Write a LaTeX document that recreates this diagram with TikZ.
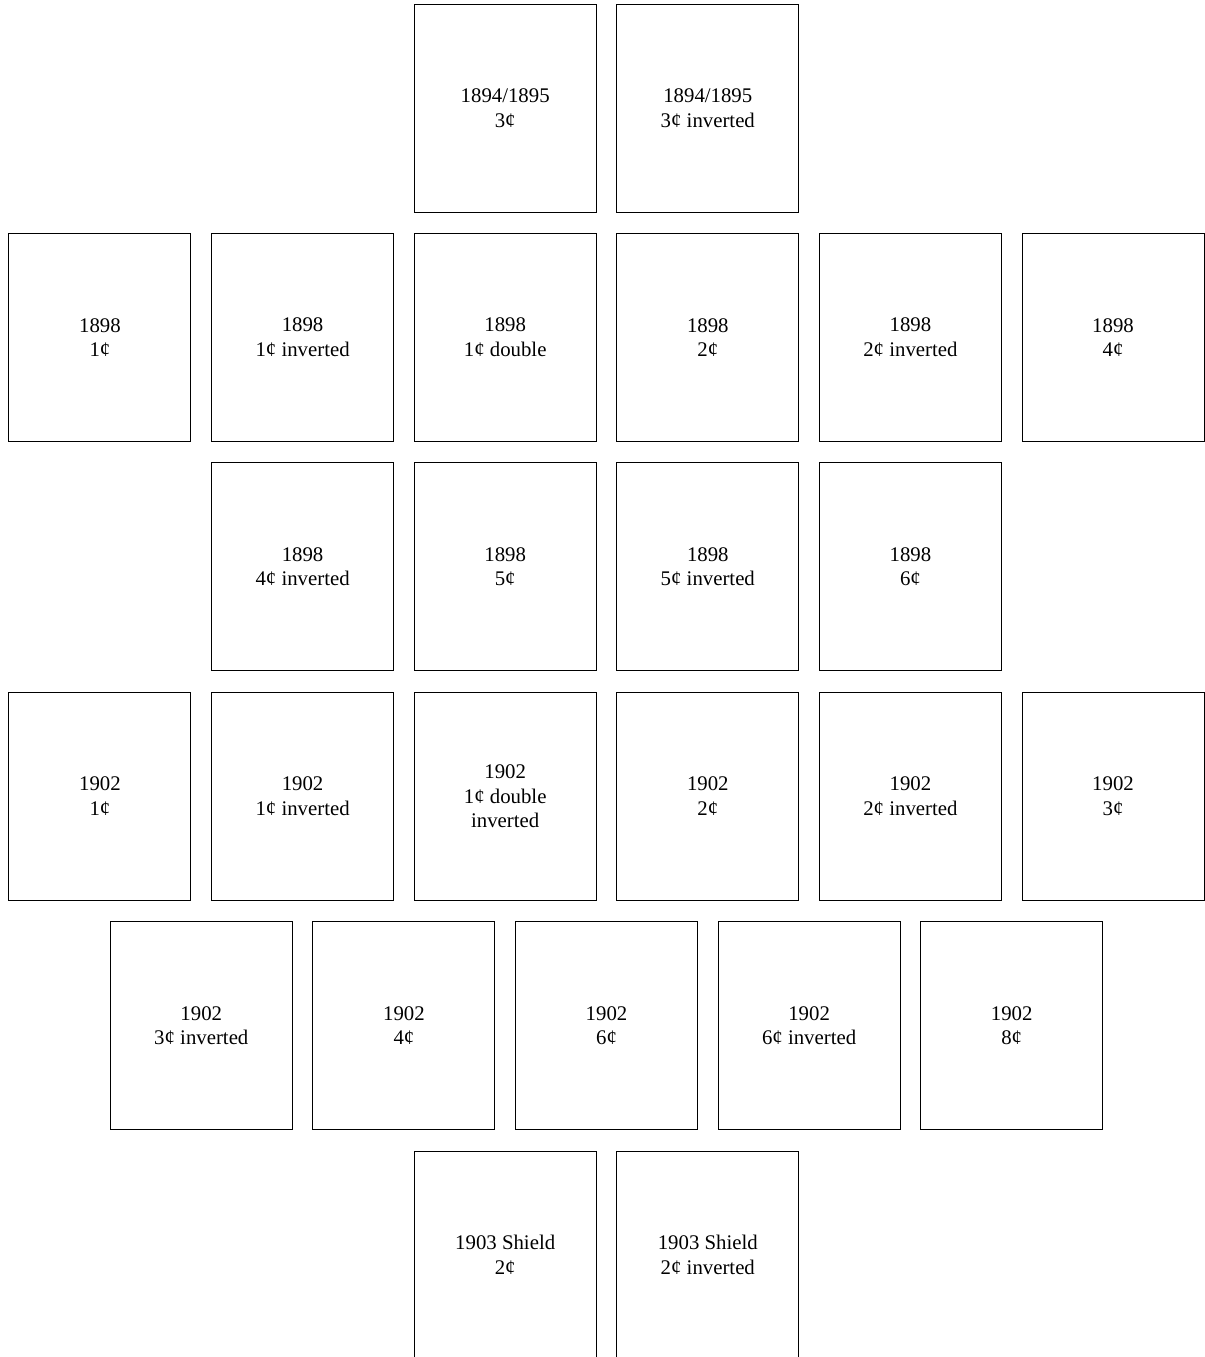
\documentclass[tikz,border=0pt]{standalone}
\usepackage{fontspec}
\setmainfont{Liberation Serif}
\usepackage{tikz}
\usetikzlibrary{positioning}

\begin{document}
\begin{tikzpicture}[
  x=101.3pt, y=114.7pt,
  font=\fontsize{10.4}{12.3}\selectfont,
  stamp/.style={rectangle, draw=black, line width=0.5pt,
                minimum width=91pt, minimum height=104pt,
                inner sep=0pt, align=center},
]
\useasboundingbox (-50pt,54pt) rectangle (552.5pt,-624.5pt);

% 1894/1895
\node[stamp] (y94c3)  at (2,0) {1894/1895\\3¢};
\node[stamp] (y94c3i) at (3,0) {1894/1895\\3¢ inverted};

% 1898
\node[stamp] (y98c1)  at (0,-1) {1898\\1¢};
\node[stamp] (y98c1i) at (1,-1) {1898\\1¢ inverted};
\node[stamp] (y98c1d) at (2,-1) {1898\\1¢ double};
\node[stamp] (y98c2)  at (3,-1) {1898\\2¢};
\node[stamp] (y98c2i) at (4,-1) {1898\\2¢ inverted};
\node[stamp] (y98c4)  at (5,-1) {1898\\4¢};

\node[stamp] (y98c4i) at (1,-2) {1898\\4¢ inverted};
\node[stamp] (y98c5)  at (2,-2) {1898\\5¢};
\node[stamp] (y98c5i) at (3,-2) {1898\\5¢ inverted};
\node[stamp] (y98c6)  at (4,-2) {1898\\6¢};

% 1902
\node[stamp] (y02c1)   at (0,-3) {1902\\1¢};
\node[stamp] (y02c1i)  at (1,-3) {1902\\1¢ inverted};
\node[stamp] (y02c1di) at (2,-3) {1902\\1¢ double\\inverted};
\node[stamp] (y02c2)   at (3,-3) {1902\\2¢};
\node[stamp] (y02c2i)  at (4,-3) {1902\\2¢ inverted};
\node[stamp] (y02c3)   at (5,-3) {1902\\3¢};

\node[stamp] (y02c3i) at (0.5,-4) {1902\\3¢ inverted};
\node[stamp] (y02c4)  at (1.5,-4) {1902\\4¢};
\node[stamp] (y02c6)  at (2.5,-4) {1902\\6¢};
\node[stamp] (y02c6i) at (3.5,-4) {1902\\6¢ inverted};
\node[stamp] (y02c8)  at (4.5,-4) {1902\\8¢};

% 1903 Shield
\node[stamp] (y03c2)  at (2,-5) {1903 Shield\\2¢};
\node[stamp] (y03c2i) at (3,-5) {1903 Shield\\2¢ inverted};

\end{tikzpicture}
\end{document}
